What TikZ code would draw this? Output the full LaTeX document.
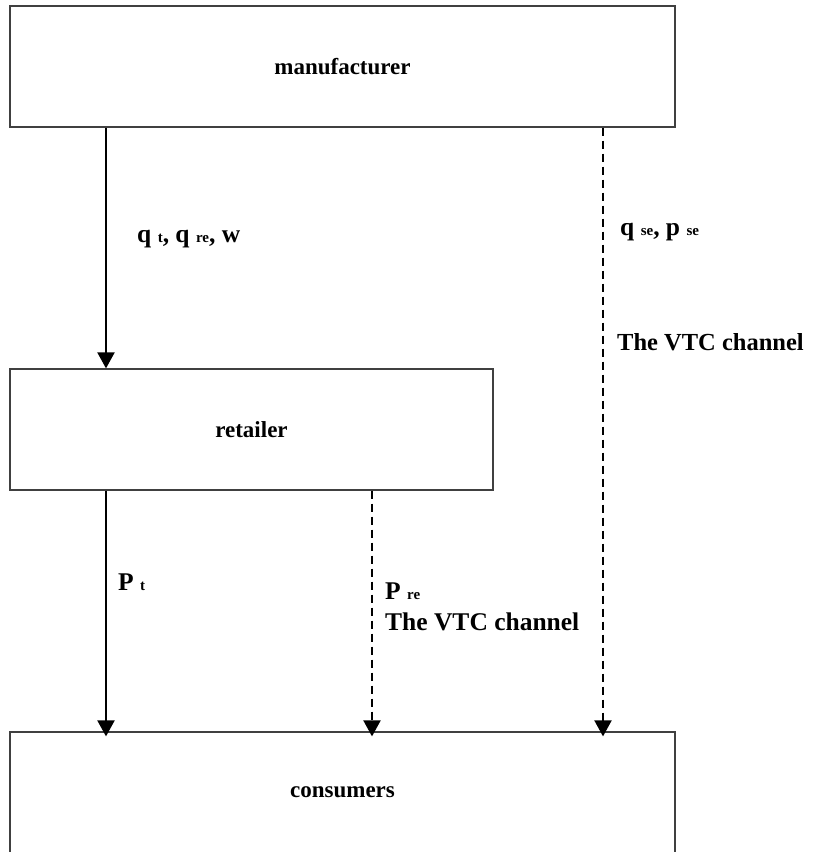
\documentclass[tikz,border=0pt]{standalone}
\usepackage{fontspec}
\setmainfont{Liberation Serif}
\usetikzlibrary{arrows.meta}
\newcommand{\sbs}[1]{{\fontsize{15}{15}\selectfont #1}}
\tikzset{
  box/.style={draw=black!75, line width=1.2pt, rectangle, inner sep=0pt, font=\fontsize{23}{25}\selectfont\bfseries},
  lbl/.style={anchor=west, inner sep=0pt, font=\fontsize{25.5}{27}\selectfont\bfseries},
  arr/.style={line width=2pt, -{Triangle[length=16pt,width=17pt]}},
  darr/.style={arr, dash pattern=on 8pt off 5pt},
}
\begin{document}
\begin{tikzpicture}[x=1pt,y=-1pt]
\useasboundingbox (0,0) rectangle (815,852);
\node[box, minimum width=665pt, minimum height=121pt] (m) at (342.5,66.5) {manufacturer};
\node[box, minimum width=483pt, minimum height=121pt] (r) at (251.5,429.5) {retailer};
\node[box, minimum width=665pt, minimum height=121pt] (c) at (342.5,792.5) {consumers};
\coordinate (x1) at (106,0);
\coordinate (x2) at (372,0);
\coordinate (x3) at (603,0);
\draw[arr] (x1 |- m.south) -- (x1 |- r.north);
\draw[arr, shorten >=-5pt] (x1 |- r.south) -- (x1 |- c.north);
\draw[darr, shorten >=-5pt] (x2 |- r.south) -- (x2 |- c.north);
\draw[darr, shorten >=-5pt] (x3 |- m.south) -- (x3 |- c.north);
\node[lbl] (l1) at (137,239) {q \sbs{t}, q \sbs{re}, w};
\node[lbl] (l2) at (620,232) {q \sbs{se}, p \sbs{se}};
\node[lbl, font=\fontsize{24.5}{26}\selectfont\bfseries] (l3) at (617,342) {The VTC channel};
\node[lbl] (l4) at (118,582) {P \sbs{t}};
\node[lbl] (l5) at (385,591) {P \sbs{re}};
\node[lbl] (l6) at (385,622) {The VTC channel};
\end{tikzpicture}
\end{document}
